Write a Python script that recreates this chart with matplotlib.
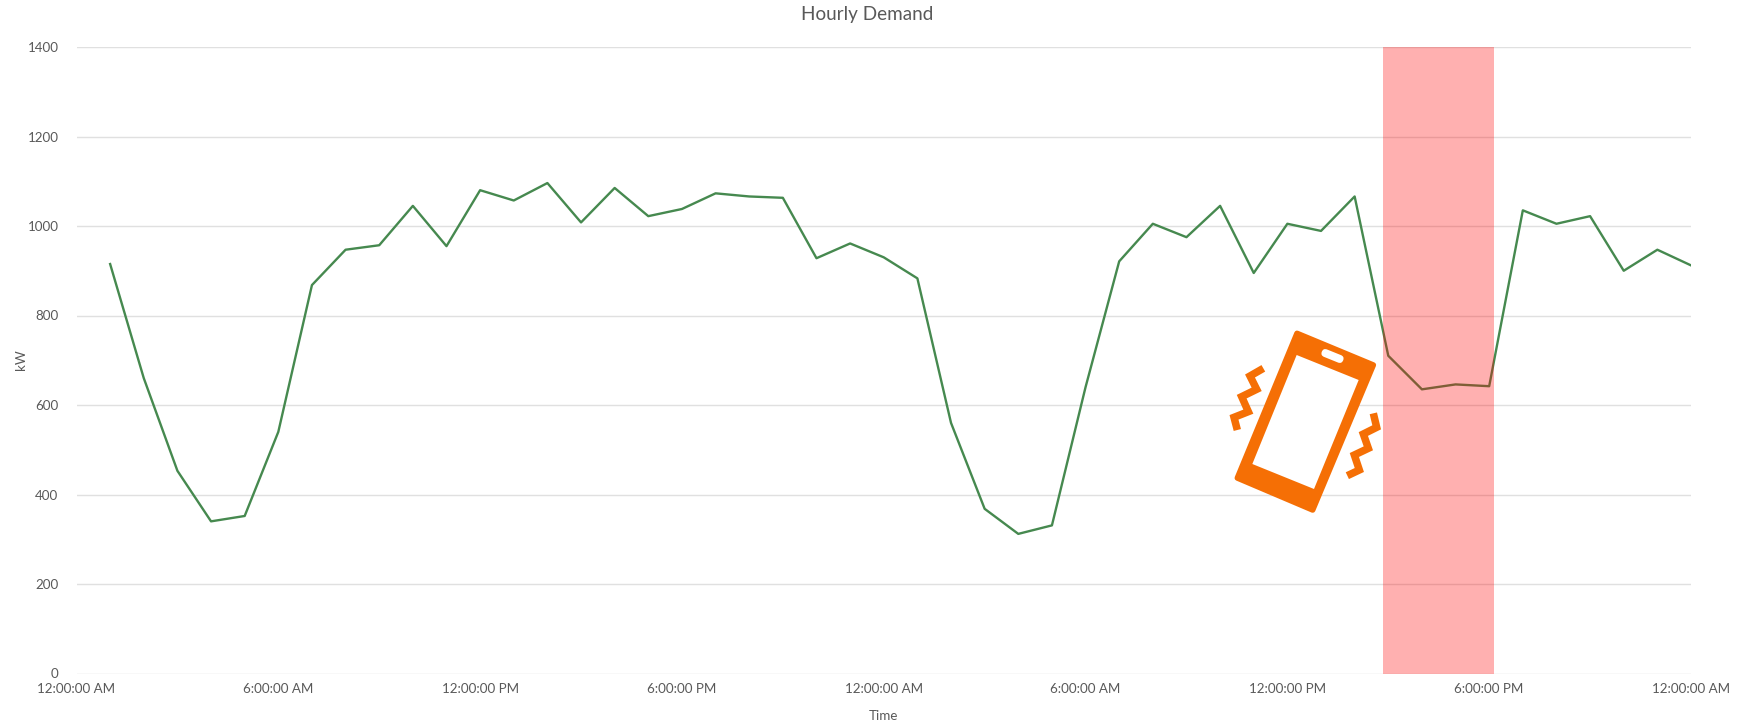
import matplotlib
matplotlib.use("Agg")
import matplotlib.pyplot as plt
from matplotlib.patches import Polygon, FancyBboxPatch
from matplotlib.transforms import Affine2D

W, H = 1745, 725

hours = list(range(1, 49))
demand = [915, 660, 453, 340, 352, 540, 868, 947, 957, 1045, 955, 1080,
          1057, 1096, 1008, 1085, 1022, 1038, 1073, 1066, 1063, 928, 961, 930,
          883, 560, 368, 312, 331, 640, 921, 1005, 975, 1045, 895, 1005, 989, 1066,
          710, 635, 646, 642, 1035, 1005, 1022, 900, 947, 912]

x_ticks = [0, 6, 12, 18, 24, 30, 36, 42, 48]
x_labels = ["12:00:00 AM", "6:00:00 AM", "12:00:00 PM", "6:00:00 PM",
            "12:00:00 AM", "6:00:00 AM", "12:00:00 PM", "6:00:00 PM", "12:00:00 AM"]
y_ticks = [0, 200, 400, 600, 800, 1000, 1200, 1400]

event_start = 38.83
event_end = 42.15

plt.rcParams['font.family'] = ['Lato', 'DejaVu Sans']
TEXT = "#595959"
ORANGE = "#f56f05"

fig = plt.figure(figsize=(W / 100, H / 100), dpi=100)
ax = fig.add_axes([76.5 / W, 1 - 673.5 / H, (1691 - 76.5) / W, (673.5 - 47) / H])

ax.plot(hours, demand, color="#46894f", lw=1.7, zorder=2)
ax.axvspan(event_start, event_end, color="#ff0000", alpha=0.31, lw=0, zorder=3)

ax.set_xlim(0, 48)
ax.set_ylim(0, 1400)
ax.set_xticks(x_ticks)
ax.set_xticklabels(x_labels)
ax.set_yticks(y_ticks)
ax.grid(axis="y", color="#e0e0e0", lw=1)
ax.set_axisbelow(True)
for s in ax.spines.values():
    s.set_visible(False)
ax.tick_params(length=0, labelsize=9.6, labelcolor=TEXT)
ax.tick_params(axis="x", pad=7)
ax.tick_params(axis="y", pad=13)

fig.text(867 / W, 1 - 14.5 / H, "Hourly Demand", color=TEXT, fontsize=13.6, ha="center", va="center")
fig.text(883 / W, 1 - 716 / H, "Time", color=TEXT, fontsize=9.6, ha="center", va="center")
fig.text(21 / W, 1 - 360 / H, "kW", color=TEXT, fontsize=9.6, rotation=90, ha="center", va="center")

# phone icon, drawn over everything in pixel coordinates
ov = fig.add_axes([0, 0, 1, 1])
ov.set_xlim(0, W)
ov.set_ylim(H, 0)
ov.axis("off")
ov.patch.set_alpha(0)

def px(pts):
    # zoom crop coords -> full image pixels
    return [(1200 + x / 3, 300 + y / 3) for x, y in pts]

ov.add_patch(Polygon(px([(291, 100), (520, 195), (338, 630), (112, 534)]),
                     closed=True, fc=ORANGE, ec=ORANGE, lw=4, joinstyle="round"))
ov.add_patch(Polygon(px([(290, 165), (476, 240), (342, 567), (157, 492)]),
                     closed=True, fc="white", ec="none"))
pill = FancyBboxPatch((1321, 352), 23, 8, boxstyle="round,pad=0,rounding_size=4",
                      fc="white", ec="none")
pill.set_transform(Affine2D().rotate_deg_around(1332.5, 356, 22) + ov.transData)
ov.add_patch(pill)

zig_left = px([(190, 205), (150, 228), (170, 268), (125, 290), (145, 335), (102, 352), (112, 390)])
zig_right = px([(520, 340), (530, 382), (490, 402), (505, 445), (463, 465), (478, 510), (442, 527)])
for z in (zig_left, zig_right):
    ov.plot([p[0] for p in z], [p[1] for p in z], color=ORANGE, lw=5.4,
            solid_joinstyle="miter", solid_capstyle="butt")

fig.savefig("out.png", dpi=100)
